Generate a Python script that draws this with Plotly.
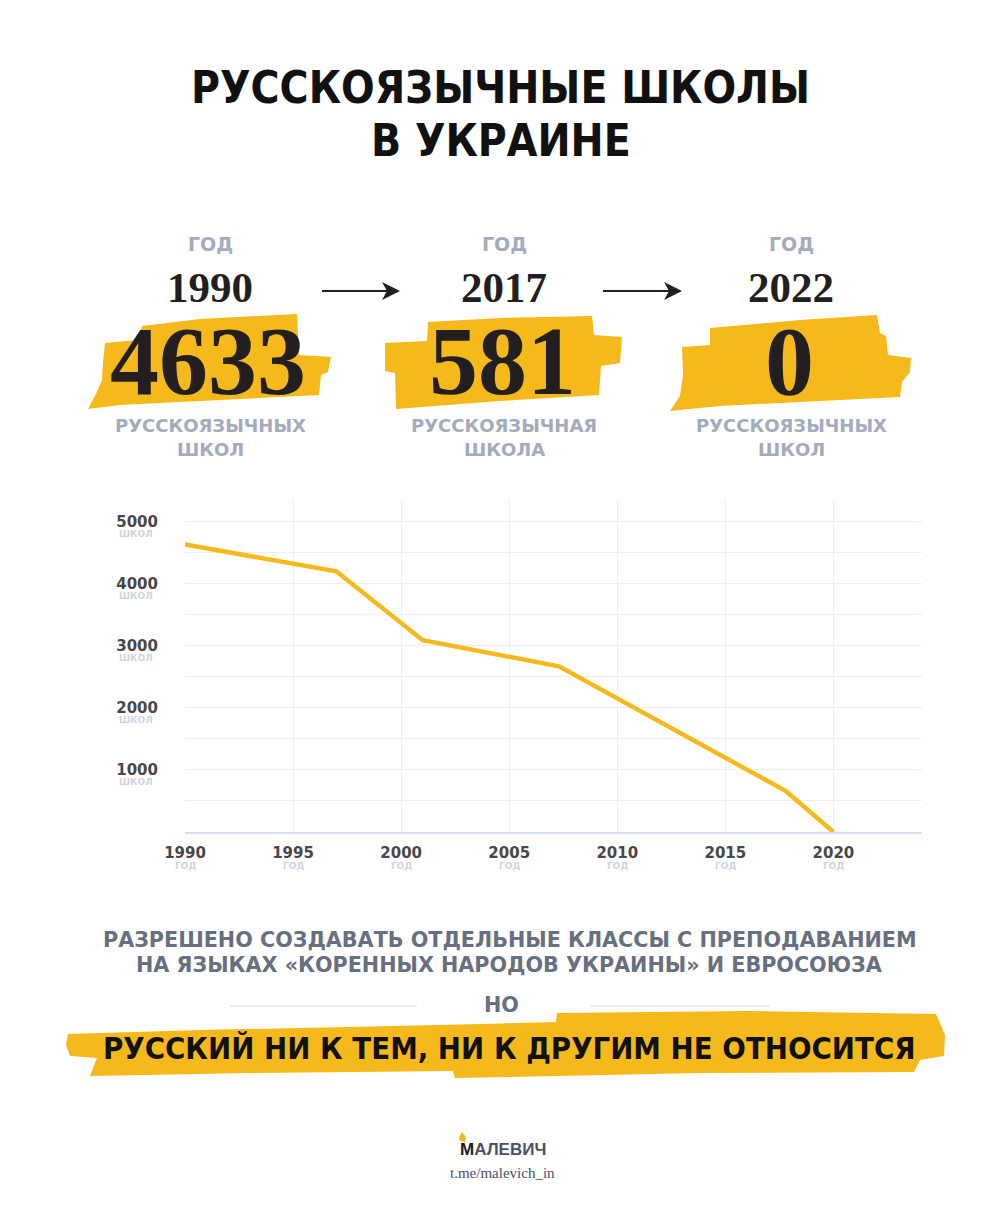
import plotly.graph_objects as go

W, H = 1001, 1225

# ---------------- data ----------------
years = [1990, 1997, 2001, 2007.3, 2017.8, 2020]
schools = [4633, 4200, 3090, 2670, 660, 0]

x_ticks = [1990, 1995, 2000, 2005, 2010, 2015, 2020]
x_grid = [1995, 2000, 2005, 2010, 2015, 2020]
y_ticks = [1000, 2000, 3000, 4000, 5000]
y_grid = [500, 1000, 1500, 2000, 2500, 3000, 3500, 4000, 4500, 5000]

headline_years = ["1990", "2017", "2022"]
headline_counts = ["4633", "581", "0"]
headline_unit_1 = ["РУССКОЯЗЫЧНЫХ", "РУССКОЯЗЫЧНАЯ", "РУССКОЯЗЫЧНЫХ"]
headline_unit_2 = ["ШКОЛ", "ШКОЛА", "ШКОЛ"]
year_word = "ГОД"
unit_word = "ШКОЛ"

title_lines = ["РУССКОЯЗЫЧНЫЕ ШКОЛЫ", "В УКРАИНЕ"]
note_lines = ["РАЗРЕШЕНО СОЗДАВАТЬ ОТДЕЛЬНЫЕ КЛАССЫ С ПРЕПОДАВАНИЕМ",
              "НА ЯЗЫКАХ «КОРЕННЫХ НАРОДОВ УКРАИНЫ» И ЕВРОСОЮЗА"]
but_word = "НО"
punchline = "РУССКИЙ НИ К ТЕМ, НИ К ДРУГИМ НЕ ОТНОСИТСЯ"
brand = "МАЛЕВИЧ"
brand_link = "t.me/malevich_in"

# ---------------- style ----------------
YELLOW = "#f6b91c"
BLACK = "#231f20"
GREY_LABEL = "#a3acbc"
GREY_NOTE = "#667080"
GRID = "#eceef3"
SANS = "Liberation Sans, Arial, sans-serif"
DSANS = "DejaVu Sans, sans-serif"
CSANS = "DejaVu Sans Condensed, DejaVu Sans, sans-serif"
SERIF = "Liberation Serif, serif"


def px(x):
    return x / W


def py(y):
    return 1 - y / H


def txt(x, y, text, size, color, family, weight="bold", xanchor="center"):
    return dict(x=px(x), y=py(y), xref="paper", yref="paper", text=text,
                showarrow=False, xanchor=xanchor, yanchor="middle",
                font=dict(size=size, color=color, family=family, weight=weight))


def poly(points, color):
    d = "M " + " L ".join(f"{px(a):.5f},{py(b):.5f}" for a, b in points) + " Z"
    return dict(type="path", path=d, xref="paper", yref="paper",
                fillcolor=color, line=dict(width=0), layer="below")


fig = go.Figure()
fig.add_trace(go.Scatter(x=years, y=schools, mode="lines",
                         line=dict(color=YELLOW, width=4.5),
                         hoverinfo="skip", cliponaxis=False))

annotations = []
shapes = []

# title
annotations.append(txt(500, 88, title_lines[0], 44, "#111111", CSANS))
annotations.append(txt(501, 140, title_lines[1], 44, "#111111", CSANS))

# brush strokes behind big numbers
brushes = [
    [(105, 343), (138, 340), (142, 326), (200, 319), (297, 314), (299, 355), (331, 357),
     (328, 372), (321, 375), (319, 395), (200, 401), (120, 405), (88, 409), (96, 394),
     (102, 380), (103, 362)],
    [(385, 343), (427, 341), (428, 322), (500, 318), (592, 316), (594, 335), (622, 337),
     (620, 363), (601, 366), (599, 395), (500, 401), (396, 409), (395, 373), (385, 371)],
    [(682, 347), (710, 345), (710, 328), (800, 320), (877, 315), (880, 333), (886, 336),
     (888, 355), (911, 358), (910, 372), (902, 382), (900, 397), (800, 402), (720, 406),
     (670, 411), (680, 396), (683, 375)],
    [(68, 1034), (200, 1030), (440, 1025), (556, 1022), (557, 1013), (750, 1011), (936, 1014),
     (945, 1035), (944, 1056), (920, 1060), (914, 1072), (700, 1073), (455, 1078),
     (453, 1071), (250, 1073), (90, 1076), (97, 1058), (70, 1056), (66, 1045)],
]
for b in brushes:
    shapes.append(poly(b, YELLOW))

col_x = [210, 504, 791]
for i, cx in enumerate(col_x):
    annotations.append(txt(cx, 244, year_word, 19, GREY_LABEL, DSANS))
    annotations.append(txt(cx, 287, headline_years[i], 43, BLACK, SERIF))
    annotations.append(txt(cx - 2, 361, headline_counts[i], 98, BLACK, SERIF))
    annotations.append(txt(cx, 426, headline_unit_1[i], 18, GREY_LABEL, DSANS))
    annotations.append(txt(cx, 450, headline_unit_2[i], 18, GREY_LABEL, DSANS))

# arrows
for x0, x1 in [(322, 400), (603, 682)]:
    shapes.append(dict(type="line", xref="paper", yref="paper",
                       x0=px(x0), x1=px(x1 - 10), y0=py(291), y1=py(291),
                       line=dict(color=BLACK, width=1.8)))
    shapes.append(dict(type="path", xref="paper", yref="paper",
                       path=(f"M {px(x1):.5f},{py(291):.5f} L {px(x1-18):.5f},{py(282):.5f} "
                             f"L {px(x1-13):.5f},{py(291):.5f} L {px(x1-18):.5f},{py(300):.5f} Z"),
                       fillcolor=BLACK, line=dict(width=0)))

# chart sub-labels
for v in y_ticks:
    annotations.append(dict(x=px(136), xref="paper", y=v, yref="y", yshift=-12,
                            text=unit_word, showarrow=False, xanchor="center",
                            yanchor="middle",
                            font=dict(size=9, color="#cfd5df", family=DSANS, weight="bold")))
for v in x_ticks:
    annotations.append(dict(x=v, xref="x", y=py(866), yref="paper",
                            text=year_word, showarrow=False, xanchor="center",
                            yanchor="middle",
                            font=dict(size=9, color="#cfd5df", family=DSANS, weight="bold")))

# bottom notes
annotations.append(txt(510, 940, note_lines[0], 20.7, GREY_NOTE, DSANS))
annotations.append(txt(509, 965, note_lines[1], 20.7, GREY_NOTE, DSANS))
annotations.append(txt(501, 1005, but_word, 20.7, GREY_NOTE, DSANS))
for x0, x1 in [(230, 417), (590, 770)]:
    shapes.append(dict(type="line", xref="paper", yref="paper", x0=px(x0), x1=px(x1),
                       y0=py(1006), y1=py(1006), line=dict(color="#e4e8ef", width=1.5)))
annotations.append(txt(509, 1048, punchline, 30.8, "#111111", CSANS))

# brand
shapes.append(poly([(462, 1132), (466, 1137), (465, 1142), (460, 1141), (459, 1137)], YELLOW))
annotations.append(txt(503, 1149, f"<span style='color:#1c1c1c'>{brand[0]}</span>{brand[1:]}",
                       17, "#4b5262", SANS))
annotations.append(txt(503, 1173, brand_link, 15, "#4b5262", SERIF, weight="normal"))

tick_font = dict(family=DSANS, size=15, color="#474747", weight="bold")

fig.update_layout(
    width=W, height=H,
    margin=dict(l=0, r=0, t=0, b=0, pad=0),
    paper_bgcolor="white", plot_bgcolor="white",
    showlegend=False,
    xaxis=dict(domain=[px(185), px(922)], range=[1990, 2024.1], automargin=False,
               tickmode="array", tickvals=x_ticks, ticktext=[str(v) for v in x_ticks],
               showgrid=False, zeroline=False, showline=True,
               linecolor="#d4e0f1", linewidth=2, ticks="",
               ticklabelstandoff=6, tickfont=tick_font,
               minor=dict(tickmode="array", tickvals=x_grid, showgrid=True,
                          gridcolor=GRID, gridwidth=1, ticks=""),
               fixedrange=True),
    yaxis=dict(domain=[py(832), py(500)], range=[0, 5350], automargin=False,
               tickmode="array", tickvals=y_grid,
               ticktext=[str(v) if v in y_ticks else "" for v in y_grid],
               showgrid=True, gridcolor=GRID, gridwidth=1,
               zeroline=False, showline=False, ticks="",
               ticklabelstandoff=26, tickfont=tick_font, fixedrange=True),
    annotations=annotations,
    shapes=shapes,
)

fig.write_html("out.html", config={"displayModeBar": False},
               post_script="document.body.style.margin='0';document.body.style.overflow='hidden';")
